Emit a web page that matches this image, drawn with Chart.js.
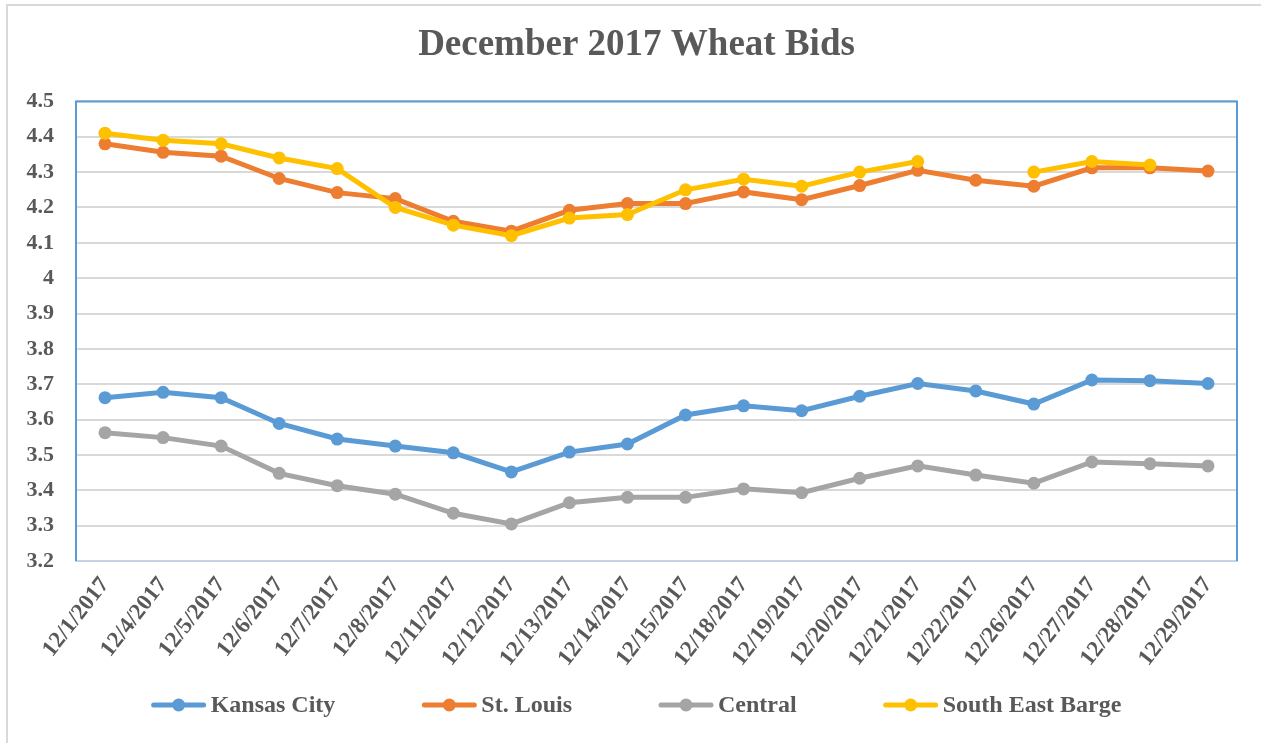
<!DOCTYPE html>
<html>
<head>
<meta charset="utf-8">
<script src="https://cdn.jsdelivr.net/npm/chart.js@4/dist/chart.umd.min.js"></script>
<style>
  html, body { margin: 0; padding: 0; background: #fff; }
  #wrap { width: 1261px; height: 743px; position: relative; }
</style>
</head>
<body>
<div id="wrap"><canvas id="myChart"></canvas></div>
<script>
let fechas = ['12/1/2017','12/4/2017','12/5/2017','12/6/2017','12/7/2017','12/8/2017',
  '12/11/2017','12/12/2017','12/13/2017','12/14/2017','12/15/2017','12/18/2017',
  '12/19/2017','12/20/2017','12/21/2017','12/22/2017','12/26/2017','12/27/2017',
  '12/28/2017','12/29/2017'];
let kansasCity = [3.662,3.677,3.662,3.589,3.545,3.525,3.506,3.452,3.508,3.531,
  3.613,3.639,3.625,3.666,3.702,3.681,3.644,3.712,3.710,3.702];
let stLouis = [4.380,4.356,4.345,4.282,4.242,4.225,4.161,4.133,4.192,4.211,
  4.211,4.244,4.222,4.262,4.305,4.277,4.260,4.312,4.312,4.303];
let central = [3.563,3.549,3.525,3.448,3.413,3.389,3.335,3.305,3.365,3.380,
  3.380,3.404,3.393,3.434,3.469,3.443,3.420,3.480,3.475,3.469];
let barge = [4.41,4.39,4.38,4.34,4.31,4.20,4.15,4.12,4.17,4.18,
  4.25,4.28,4.26,4.30,4.33,null,4.30,4.33,4.32,null];
let yMin = 3.2, yMax = 4.5, yStep = 0.1;

let gris = '#595959';
let fuente = 'Liberation Serif, Times New Roman, serif';

function serie(nombre, datos, color, orden){
  return {
    label: nombre,
    data: datos,
    borderColor: color,
    backgroundColor: color,
    pointBackgroundColor: color,
    pointBorderColor: color,
    borderWidth: 5,
    pointRadius: 6.5,
    pointBorderWidth: 0,
    tension: 0,
    spanGaps: false,
    order: orden
  };
}

// marcos, titulo centrado y leyenda con linea y punto
let extras = {
  id: 'extras',
  afterLayout(chart){
    if (chart.titleBlock){ chart.titleBlock.left = 12; chart.titleBlock.right = chart.width; }
  },
  beforeDraw(chart){
    let c = chart.ctx;
    c.save();
    c.strokeStyle = '#d9d9d9'; c.lineWidth = 2;
    c.beginPath(); c.moveTo(7, 800); c.lineTo(7, 5); c.lineTo(1300, 5); c.stroke();
    c.restore();
  },
  afterDatasetsDraw(chart){
    let a = chart.chartArea, c = chart.ctx;
    c.save();
    c.strokeStyle = '#5b9bd5'; c.lineWidth = 2;
    c.beginPath();
    c.moveTo(a.left, a.bottom); c.lineTo(a.left, a.top);
    c.lineTo(a.right, a.top); c.lineTo(a.right, a.bottom);
    c.stroke();
    c.restore();
  },
  afterDraw(chart){
    let c = chart.ctx;
    let ds = chart.data.datasets;
    c.save();
    c.font = 'bold 24px ' + fuente;
    let linea = 54, hueco = 5, sep = 87;
    let anchos = ds.map(d => linea + hueco + c.measureText(d.label).width);
    let total = anchos.reduce((a, b) => a + b, 0) + sep * (ds.length - 1);
    let x = 636.5 - total / 2, y = 705;
    ds.forEach((d, i) => {
      c.strokeStyle = d.borderColor; c.lineWidth = 5; c.lineCap = 'round';
      c.beginPath(); c.moveTo(x + 2, y); c.lineTo(x + linea - 2, y); c.stroke();
      c.fillStyle = d.borderColor;
      c.beginPath(); c.arc(x + linea / 2, y, 6.5, 0, Math.PI * 2); c.fill();
      c.fillStyle = gris; c.textBaseline = 'middle'; c.textAlign = 'left';
      c.fillText(d.label, x + linea + hueco, y + 1);
      x += anchos[i] + sep;
    });
    c.restore();
  }
};

let ctx = document.getElementById('myChart').getContext('2d');
let chart = new Chart(ctx, {
  type: 'line',
  data: {
    labels: fechas,
    datasets: [
      serie('Kansas City', kansasCity, '#5b9bd5', 4),
      serie('St. Louis', stLouis, '#ed7d31', 3),
      serie('Central', central, '#a5a5a5', 2),
      serie('South East Barge', barge, '#ffc000', 1)
    ]
  },
  options: {
    responsive: true,
    maintainAspectRatio: false,
    animation: false,
    layout: { padding: { left: 0, right: 24, top: 0, bottom: 72 } },
    plugins: {
      title: {
        display: true,
        text: 'December 2017 Wheat Bids',
        color: gris,
        font: { family: fuente, size: 37, weight: 'bold' },
        padding: { top: 23, bottom: 34 }
      },
      legend: { display: false },
      tooltip: { enabled: false }
    },
    scales: {
      x: {
        offset: true,
        grid: { display: false, drawTicks: false },
        border: { display: true, color: '#c5d3e3', width: 2 },
        ticks: {
          color: gris,
          font: { family: fuente, size: 23, weight: 'bold' },
          minRotation: 52,
          maxRotation: 52,
          padding: 11,
          labelOffset: 0,
          autoSkip: false
        },
        afterFit(scale){ scale.height = 110; }
      },
      y: {
        min: yMin,
        max: yMax,
        grid: { color: '#d9d9d9', lineWidth: 2, drawTicks: false },
        border: { display: false },
        ticks: {
          stepSize: yStep,
          color: gris,
          font: { family: fuente, size: 22, weight: 'bold' },
          padding: 22,
          callback: v => String(Number(v.toFixed(2)))
        },
        afterFit(scale){ scale.width = 76; }
      }
    }
  },
  plugins: [extras]
});
</script>
</body>
</html>
